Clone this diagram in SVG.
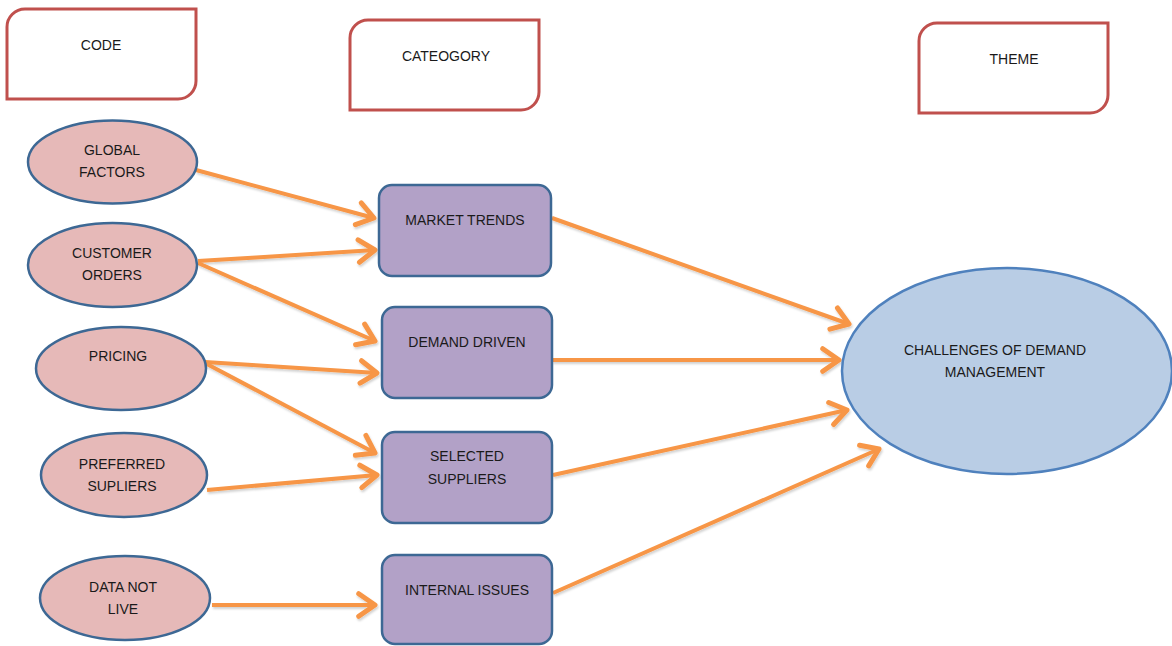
<svg xmlns="http://www.w3.org/2000/svg" width="1172" height="646" viewBox="0 0 1172 646">
  <style>
    .hdr { fill: #ffffff; stroke: #C0504D; stroke-width: 3; }
    .code { fill: #E6B9B8; stroke: #3D6894; stroke-width: 2.5; }
    .cat { fill: #B2A1C7; stroke: #3D6894; stroke-width: 2.5; }
    .theme { fill: #B9CDE5; stroke: #4F81BD; stroke-width: 2.5; }
    text { font-family: "Liberation Sans", Arial, sans-serif; font-size: 14px; fill: #1a1a1a; text-anchor: middle; dominant-baseline: central; }
    .link { stroke: #F79646; stroke-width: 4; fill: none; marker-end: url(#arrow); }
  </style>
  <defs>
    <marker id="arrow" markerUnits="userSpaceOnUse" markerWidth="30" markerHeight="30" refX="0" refY="0" viewBox="-16 -12 20 24" orient="auto">
      <path d="M-13,-9 L0,0 L-13,9" fill="none" stroke="#F79646" stroke-width="4" stroke-linecap="round" stroke-linejoin="round"/>
    </marker>
    <filter id="shadow" x="-5%" y="-20%" width="110%" height="140%">
      <feDropShadow dx="1" dy="2" stdDeviation="1.2" flood-color="#000000" flood-opacity="0.18"/>
    </filter>
  </defs>

  <rect width="1172" height="646" fill="#ffffff"/>

  <!-- column headers: rounded on top-left and bottom-right corners -->
  <g id="hdr-code">
    <path class="hdr" d="M25,9 H196 V81 A18,18 0 0 1 178,99 H7 V27 A18,18 0 0 1 25,9 Z"/>
    <text x="101" y="45">CODE</text>
  </g>
  <g id="hdr-category">
    <path class="hdr" d="M368,20 H539 V92 A18,18 0 0 1 521,110 H350 V38 A18,18 0 0 1 368,20 Z"/>
    <text x="446" y="56">CATEOGORY</text>
  </g>
  <g id="hdr-theme">
    <path class="hdr" d="M937,23 H1108 V95 A18,18 0 0 1 1090,113 H919 V41 A18,18 0 0 1 937,23 Z"/>
    <text x="1014" y="59">THEME</text>
  </g>

  <!-- connectors -->
  <g id="connectors" filter="url(#shadow)">
    <line class="link" x1="196" y1="170" x2="374" y2="218"/>
    <line class="link" x1="198" y1="261" x2="375" y2="250"/>
    <line class="link" x1="198" y1="263" x2="375" y2="341"/>
    <line class="link" x1="205" y1="362" x2="377" y2="373"/>
    <line class="link" x1="205" y1="363" x2="375" y2="453"/>
    <line class="link" x1="207" y1="490" x2="377" y2="475"/>
    <line class="link" x1="212" y1="605" x2="375" y2="605"/>
    <line class="link" x1="552" y1="218" x2="849" y2="324"/>
    <line class="link" x1="552" y1="360" x2="839" y2="360"/>
    <line class="link" x1="553" y1="475" x2="847" y2="410"/>
    <line class="link" x1="553" y1="593" x2="879" y2="449"/>
  </g>

  <!-- codes -->
  <g id="code-global-factors">
    <ellipse class="code" cx="112.5" cy="162" rx="84.5" ry="41.5"/>
    <text x="112" y="150">GLOBAL</text>
    <text x="112" y="172">FACTORS</text>
  </g>
  <g id="code-customer-orders">
    <ellipse class="code" cx="112.5" cy="265" rx="84.5" ry="42"/>
    <text x="112" y="253">CUSTOMER</text>
    <text x="112" y="275">ORDERS</text>
  </g>
  <g id="code-pricing">
    <ellipse class="code" cx="121" cy="368.5" rx="85" ry="41.5"/>
    <text x="118" y="356">PRICING</text>
  </g>
  <g id="code-preferred-supliers">
    <ellipse class="code" cx="124" cy="475" rx="83" ry="42"/>
    <text x="122" y="464">PREFERRED</text>
    <text x="122" y="486">SUPLIERS</text>
  </g>
  <g id="code-data-not-live">
    <ellipse class="code" cx="125" cy="598" rx="85" ry="42"/>
    <text x="123" y="587">DATA NOT</text>
    <text x="123" y="609">LIVE</text>
  </g>

  <!-- categories -->
  <g id="cat-market-trends">
    <rect class="cat" x="379" y="185" width="172" height="91" rx="13"/>
    <text x="465" y="220">MARKET TRENDS</text>
  </g>
  <g id="cat-demand-driven">
    <rect class="cat" x="382" y="307" width="170" height="91" rx="13"/>
    <text x="467" y="342">DEMAND DRIVEN</text>
  </g>
  <g id="cat-selected-suppliers">
    <rect class="cat" x="382" y="432" width="170" height="91" rx="13"/>
    <text x="467" y="456">SELECTED</text>
    <text x="467" y="479">SUPPLIERS</text>
  </g>
  <g id="cat-internal-issues">
    <rect class="cat" x="382" y="555" width="170" height="89" rx="13"/>
    <text x="467" y="590">INTERNAL ISSUES</text>
  </g>

  <!-- theme -->
  <g id="theme-challenges">
    <ellipse class="theme" cx="1007" cy="371" rx="165" ry="103"/>
    <text x="995" y="350">CHALLENGES OF DEMAND</text>
    <text x="995" y="372">MANAGEMENT</text>
  </g>
</svg>
